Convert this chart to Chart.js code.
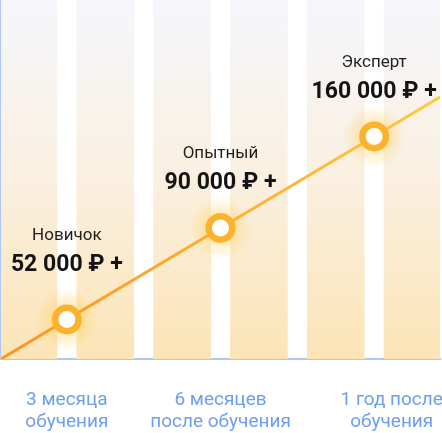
<!DOCTYPE html>
<html>
<head>
<meta charset="utf-8">
<script src="https://cdn.jsdelivr.net/npm/chart.js@4.4.1/dist/chart.umd.min.js"></script>
<style>
    html, body { margin: 0; padding: 0; background: #ffffff; }
</style>
</head>
<body>
<canvas id="graph" width="442" height="433"></canvas>
<script>
// growth line: x is position along the timeline (0-100), y is level (0-100)
const lineX = [0, 15, 50, 85, 100];
const lineY = [0, 11, 36.5, 62, 73];

// the three steps on the line
const levelNames = ['Новичок', 'Опытный', 'Эксперт'];
const salaries = [52000, 90000, 160000];

// background columns
const bandCenters = [6.25, 23.75, 41.25, 58.75, 76.25, 93.75];
const bandHeight = 100;

// x axis labels and where they sit
const xLabels = [['3 месяца', 'обучения'], ['6 месяцев', 'после обучения'], ['1 год после', 'обучения']];
const tickPositions = [15, 50, 89];

const axisColor = '#aec7f4';

function formatMoney(v) {
    let s = String(v).replace(/\B(?=(\d{3})+(?!\d))/g, ' ');
    return s + ' ₽ +';
}

Chart.defaults.font.family = 'Roboto';

// soft yellow halo under every step point
const glowPlugin = {
    id: 'glow',
    afterDatasetDraw(chart, args) {
        if (args.index !== 0) return;
        const ctx = chart.ctx;
        const meta = chart.getDatasetMeta(1);
        ctx.save();
        for (let i = 1; i < meta.data.length - 1; i++) {
            const p = meta.data[i];
            let g = ctx.createRadialGradient(p.x, p.y, 0, p.x, p.y, 32);
            g.addColorStop(0, 'rgba(255, 196, 60, 0.55)');
            g.addColorStop(0.45, 'rgba(255, 200, 70, 0.35)');
            g.addColorStop(1, 'rgba(255, 210, 90, 0)');
            ctx.fillStyle = g;
            ctx.beginPath();
            ctx.arc(p.x, p.y, 32, 0, Math.PI * 2);
            ctx.fill();
        }
        ctx.restore();
    }
};

// level name + salary above each step point
const stepLabels = {
    id: 'stepLabels',
    afterDatasetsDraw(chart, args, opts) {
        const ctx = chart.ctx;
        const meta = chart.getDatasetMeta(1);
        ctx.save();
        ctx.textAlign = 'center';
        ctx.textBaseline = 'middle';
        for (let i = 0; i < levelNames.length; i++) {
            const p = meta.data[i + 1];
            ctx.fillStyle = '#1f1f1f';
            ctx.font = '17px Roboto';
            ctx.fillText(levelNames[i], p.x, p.y - opts.nameOffset[i]);
            ctx.fillStyle = '#141414';
            ctx.font = 'bold 23px Roboto';
            ctx.fillText(formatMoney(salaries[i]), p.x, p.y - opts.valueOffset[i]);
        }
        ctx.restore();
    }
};

const ctx = document.getElementById('graph');

new Chart(ctx, {
    type: 'bar',
    data: {
        datasets: [{
            type: 'bar',
            data: bandCenters.map(c => ({ x: c, y: bandHeight })),
            barThickness: 57,
            borderWidth: 0,
            order: 2,
            backgroundColor: function(c) {
                const area = c.chart.chartArea;
                if (!area) return '#faeedb';
                let g = c.chart.ctx.createLinearGradient(0, area.top, 0, area.bottom);
                g.addColorStop(0, '#f5f6fc');
                g.addColorStop(0.5, '#faf0e0');
                g.addColorStop(1, '#fce4b6');
                return g;
            }
        }, {
            type: 'line',
            data: lineX.map((x, i) => ({ x: x, y: lineY[i] })),
            order: 1,
            borderWidth: 3,
            borderColor: function(c) {
                const area = c.chart.chartArea;
                if (!area) return '#fdb430';
                let g = c.chart.ctx.createLinearGradient(area.left, 0, area.right, 0);
                g.addColorStop(0, '#ff931f');
                g.addColorStop(1, '#ffc93e');
                return g;
            },
            pointRadius: c => (c.dataIndex === 0 || c.dataIndex === lineX.length - 1) ? 0 : 11.75,
            pointBorderWidth: 6.5,
            pointBackgroundColor: '#ffffff',
            pointBorderColor: '#fdb22e',
            pointHoverRadius: 0,
            tension: 0
        }]
    },
    options: {
        responsive: false,
        animation: false,
        events: [],
        layout: { padding: { left: 1, right: 2, top: 0, bottom: 0 } },
        plugins: {
            legend: { display: false },
            tooltip: { enabled: false },
            stepLabels: {
                nameOffset: [84, 74, 74],
                valueOffset: [54, 45, 44]
            }
        },
        scales: {
            x: {
                type: 'linear',
                offset: false,
                min: 0,
                max: 100,
                grid: { display: false, drawTicks: false, offset: false },
                border: { display: true, color: axisColor, width: 2 },
                afterBuildTicks: function(scale) {
                    scale.ticks = tickPositions.map(v => ({ value: v }));
                },
                afterFit: function(scale) {
                    // labels may run to the edges, keep the plot full width
                    scale.paddingLeft = 0;
                    scale.paddingRight = 0;
                    scale.height = 74;
                },
                ticks: {
                    autoSkip: false,
                    maxRotation: 0,
                    minRotation: 0,
                    padding: 30,
                    color: '#6e9df2',
                    font: { size: 19, lineHeight: 1.15 },
                    callback: function(value, index) {
                        return xLabels[index];
                    }
                }
            },
            y: {
                min: 0,
                max: 100,
                grid: { display: false, drawTicks: false },
                border: { display: true, color: axisColor, width: 2 },
                ticks: { display: false }
            }
        }
    },
    plugins: [glowPlugin, stepLabels]
});
</script>
</body>
</html>
